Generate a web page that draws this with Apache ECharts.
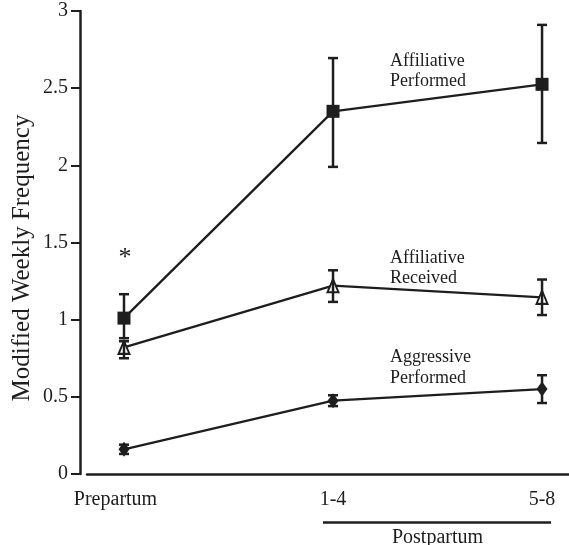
<!DOCTYPE html>
<html>
<head>
<meta charset="utf-8">
<script src="https://cdn.jsdelivr.net/npm/echarts@6/dist/echarts.min.js"></script>
<style>
  html, body { margin: 0; padding: 0; background: #fff; }
  #main { width: 569px; height: 545px; }
</style>
</head>
<body>
<div id="main"></div>
<script>
// categories on the x axis
var periods = ['Prepartum', '1-4', '5-8'];
var yTicks = [0, 0.5, 1, 1.5, 2, 2.5, 3];

// means and error limits
var affPerformed = [1.01, 2.35, 2.525];
var affPerformedLo = [0.88, 1.99, 2.145];
var affPerformedHi = [1.165, 2.695, 2.91];

var affReceived = [0.82, 1.22, 1.145];
var affReceivedLo = [0.75, 1.115, 1.03];
var affReceivedHi = [0.86, 1.32, 1.26];

var aggPerformed = [0.16, 0.475, 0.55];
var aggPerformedLo = [0.13, 0.44, 0.46];
var aggPerformedHi = [0.19, 0.51, 0.64];

var ink = '#1e1e1e';
var serif = '"Liberation Serif", "DejaVu Serif", serif';

var myChart = echarts.init(document.getElementById('main'));

function points(vals) {
    return vals.map(function (v, i) { return [i, v]; });
}
function bars(lo, hi) {
    return lo.map(function (v, i) { return [i, v, hi[i]]; });
}

// error bars drawn with a custom series
function renderErr(params, api) {
    var x = api.value(0);
    var lo = api.coord([x, api.value(1)]);
    var hi = api.coord([x, api.value(2)]);
    var w = 5;
    var st = { stroke: ink, lineWidth: 2.5 };
    return {
        type: 'group',
        children: [
            { type: 'line', shape: { x1: lo[0], y1: lo[1], x2: hi[0], y2: hi[1] }, style: st },
            { type: 'line', shape: { x1: hi[0] - w, y1: hi[1], x2: hi[0] + w, y2: hi[1] }, style: st },
            { type: 'line', shape: { x1: lo[0] - w, y1: lo[1], x2: lo[0] + w, y2: lo[1] }, style: st }
        ]
    };
}

function lineSeries(name, vals, symbol, size, fill) {
    return {
        name: name,
        type: 'line',
        data: points(vals),
        symbol: symbol,
        symbolSize: size,
        showAllSymbol: true,
        lineStyle: { color: ink, width: 2.3 },
        itemStyle: { color: fill, borderColor: ink, borderWidth: fill === '#fff' ? 2 : 0 },
        z: 3,
        animation: false
    };
}

function errSeries(lo, hi) {
    return {
        type: 'custom',
        renderItem: renderErr,
        data: bars(lo, hi),
        z: 4,
        animation: false
    };
}

var option = {
    animation: false,
    grid: { left: 87, right: 0, top: 11, bottom: 71, containLabel: false },
    xAxis: {
        type: 'value',
        min: -0.177,
        max: 2.129,
        axisLine: { show: true, onZero: false, lineStyle: { color: ink, width: 2.5 } },
        axisTick: { show: false },
        splitLine: { show: false },
        axisLabel: {
            customValues: [0, 1, 2],
            formatter: function (v) {
                var i = Math.round(v);
                return i === 0 ? '{pre|' + periods[i] + '}' : periods[i];
            },
            rich: { pre: { fontFamily: serif, fontSize: 20, color: ink, padding: [0, 17, 0, 0] } },
            color: ink,
            fontFamily: serif,
            fontSize: 20,
            margin: 16
        }
    },
    yAxis: {
        type: 'value',
        min: 0,
        max: 3,
        interval: 0.5,
        offset: 7,
        axisLine: { show: true, onZero: false, lineStyle: { color: ink, width: 2.5 } },
        axisTick: { show: true, inside: false, length: 9, lineStyle: { color: ink, width: 2 } },
        splitLine: { show: false },
        axisLabel: {
            color: ink,
            fontFamily: serif,
            fontSize: 20,
            margin: 12,
            formatter: function (v) { return yTicks.indexOf(v) >= 0 ? String(v) : ''; }
        }
    },
    series: [
        lineSeries('Affiliative Performed', affPerformed, 'rect', 13, ink),
        lineSeries('Affiliative Received', affReceived, 'triangle', [11, 13], '#fff'),
        lineSeries('Aggressive Performed', aggPerformed, 'diamond', [11, 15], ink),
        errSeries(affPerformedLo, affPerformedHi),
        errSeries(affReceivedLo, affReceivedHi),
        errSeries(aggPerformedLo, aggPerformedHi)
    ],
    graphic: [
        {
            type: 'text', x: 22, y: 258, rotation: Math.PI / 2,
            style: { text: 'Modified Weekly Frequency', fill: ink, font: '25px ' + serif, align: 'center', verticalAlign: 'middle' }
        },
        { type: 'text', left: 390, top: 51, style: { text: 'Affiliative\nPerformed', fill: ink, font: '18px ' + serif, lineHeight: 20 } },
        { type: 'text', left: 390, top: 248, style: { text: 'Affiliative\nReceived', fill: ink, font: '18px ' + serif, lineHeight: 20 } },
        { type: 'text', left: 390, top: 347, style: { text: 'Aggressive\nPerformed', fill: ink, font: '18px ' + serif, lineHeight: 21 } },
        { type: 'text', x: 125, y: 245, style: { text: '*', fill: ink, font: '26px ' + serif, align: 'center', verticalAlign: 'top' } },
        { type: 'line', shape: { x1: 323, y1: 522.5, x2: 551, y2: 522.5 }, style: { stroke: ink, lineWidth: 2.5 } },
        { type: 'text', x: 437.5, y: 528, style: { text: 'Postpartum', fill: ink, font: '20px ' + serif, align: 'center', verticalAlign: 'top' } }
    ]
};

myChart.setOption(option);
</script>
</body>
</html>
